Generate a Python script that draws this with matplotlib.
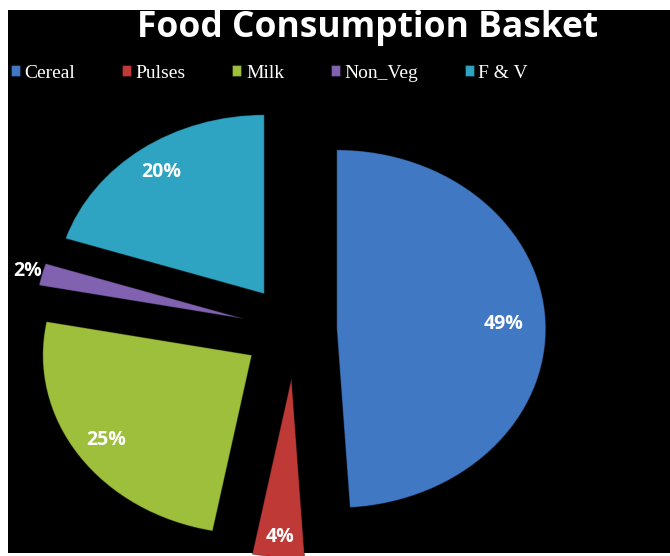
import numpy as np
import matplotlib

matplotlib.use("Agg")
import matplotlib.pyplot as plt

# data
categories = ["Cereal", "Pulses", "Milk", "Non_Veg", "F & V"]
shares = [49, 4, 25, 2, 20]
colors = ["#4178c3", "#bf3a37", "#9dbf3c", "#8162b0", "#2fa3c2"]
explode = [0.2, 0.27, 0.25, 0.25, 0.25]
label_dist = [0.8, 0.89, 0.84, 1.07, 0.84]

W, H = 670, 556
fig = plt.figure(figsize=(W / 100, H / 100), dpi=100, facecolor="white")

# black chart area (pixel box)
left, right, top, bottom = 8, 670, 10, 553
ax = fig.add_axes([left / W, 1 - bottom / H, (right - left) / W, (bottom - top) / H])

wedges, _ = ax.pie(
    shares,
    colors=colors,
    explode=explode,
    startangle=90,
    counterclock=False,
    wedgeprops=dict(linewidth=0.8, edgecolor="#00000055"),
)

# stretched pie: pixel mapping of data coords
sx, sy, cx, cy = 209.0, 179.0, 295.0, 330.0
ax.set_aspect("auto")
ax.set_xlim((left - cx) / sx, (right - cx) / sx)
ax.set_ylim((cy - bottom) / sy, (cy - top) / sy)
ax.set_frame_on(True)
ax.set_facecolor("black")
for s in ax.spines.values():
    s.set_visible(False)
ax.set_xticks([])
ax.set_yticks([])

for w, v, d in zip(wedges, shares, label_dist):
    mid = np.deg2rad((w.theta1 + w.theta2) / 2)
    x0, y0 = w.center
    ax.text(x0 + d * np.cos(mid), y0 + d * np.sin(mid), f"{v}%",
            ha="center", va="center", color="white", fontsize=14,
            fontweight="bold", family="Open Sans")

fig.text(368 / W, 1 - 28 / H, "Food Consumption Basket", ha="center", va="center",
         color="white", fontsize=25.5, fontweight="bold", family="Open Sans")

leg = fig.legend(
    wedges, categories, loc="center left", bbox_to_anchor=(11 / W, 1 - 73 / H),
    ncol=5, frameon=False, borderpad=0, borderaxespad=0,
    handlelength=0.45, handleheight=0.45, handletextpad=0.25, columnspacing=2.4,
    prop={"family": "Liberation Serif", "size": 14},
)
for t in leg.get_texts():
    t.set_color("white")

fig.savefig("out.png", dpi=100, facecolor="white")
